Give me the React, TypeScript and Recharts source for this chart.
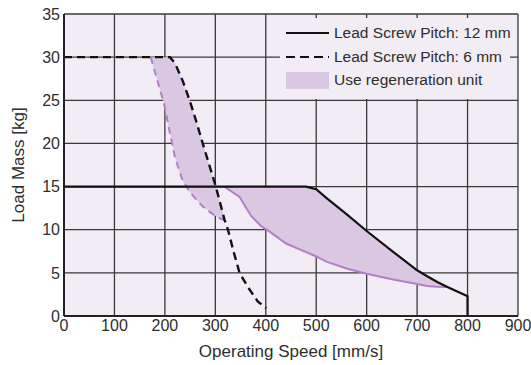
import React from "react";
import {
  ComposedChart, Line, Area, XAxis, YAxis, CartesianGrid, Legend, Label,
} from "recharts";

const FONT = "'Liberation Sans', Arial, sans-serif";
const TEXT = "#2e2e2e";
const BG = "#f2ecf4";
const SHADE = "#dac7e2";
const PURPLE = "#b27fc8";

const xTicks = [0, 100, 200, 300, 400, 500, 600, 700, 800, 900];
const yTicks = [0, 5, 10, 15, 20, 25, 30, 35];

// Lead screw pitch 12 mm (solid)
const pitch12X = [0, 318, 348, 371, 391, 407, 440, 480, 500, 520, 560, 600, 650, 700, 720, 740, 760, 800, 800];
const pitch12Y = [15, 15, 15, 15, 15, 15, 15, 15, 14.7, 13.7, 11.8, 9.85, 7.55, 5.3, 4.6, 3.95, 3.35, 2.3, 0];
// lower edge of the regeneration zone for 12 mm, at pitch12X[1..16]
const regen12Low = [15, 13.8, 11.6, 10.4, 9.8, 8.4, 7.4, 6.9, 6.3, 5.5, 4.9, 4.25, 3.7, 3.48, 3.38, 3.35];

// Lead screw pitch 6 mm (dashed)
const pitch6X = [0, 172, 185, 198, 210, 220, 235, 249, 262, 275, 288, 300, 310, 318, 325, 336, 348, 364, 384, 401];
const pitch6Y = [30, 30, 30, 30, 30, 29.3, 27.3, 25, 22.6, 20, 17.5, 15.2, 13, 11.2, 10, 7.5, 5, 3.4, 1.7, 0.9];
// lower edge of the regeneration zone for 6 mm, at pitch6X[1..13]
const regen6Low = [30, 27.3, 24.7, 21.2, 18.4, 15.7, 14.4, 13.5, 12.7, 12.1, 11.6, 11.3, 11.1];

const legendItems = [
  { label: "Lead Screw Pitch: 12 mm", kind: "solid" },
  { label: "Lead Screw Pitch: 6 mm", kind: "dashed" },
  { label: "Use regeneration unit", kind: "area" },
];

const pitch12 = pitch12X.map((x, i) => ({ x, y: pitch12Y[i] }));
const pitch6 = pitch6X.map((x, i) => ({ x, y: pitch6Y[i] }));
const regen12 = regen12Low.map((low, i) => ({
  x: pitch12X[i + 1], low, range: [low, pitch12Y[i + 1]],
}));
const regen6 = regen6Low.map((low, i) => ({
  x: pitch6X[i + 1], low, range: [low, pitch6Y[i + 1]],
}));

const LegendBox = () => (
  <div style={{ width: 230, height: 81, background: BG, fontFamily: FONT, fontSize: 15.5, color: TEXT }}>
    {legendItems.map((item, i) => (
      <div key={item.label} style={{ position: "absolute", left: 6, top: 5 + i * 23.5, height: 20, display: "flex", alignItems: "center" }}>
        <svg width={44} height={20} style={{ marginRight: 4 }}>
          {item.kind === "area" ? (
            <rect x={0} y={2} width={43} height={17} fill={SHADE} />
          ) : (
            <line x1={0} x2={43} y1={10} y2={10} stroke="#111" strokeWidth={2.2}
              strokeDasharray={item.kind === "dashed" ? "9 5" : undefined} />
          )}
        </svg>
        <span style={{ whiteSpace: "nowrap", lineHeight: "20px" }}>{item.label}</span>
      </div>
    ))}
  </div>
);

export default function App() {
  return (
    <div style={{ position: "absolute", left: 0, top: 0, width: 531, height: 365, background: "#fff" }}>
      <ComposedChart width={531} height={365} margin={{ top: 14, right: 13, bottom: 0, left: 0 }} style={{ fontFamily: FONT }}>
        <CartesianGrid stroke="#3a3a3a" strokeWidth={1.3} fill={BG} fillOpacity={1} />
        <XAxis
          type="number" dataKey="x" domain={[0, 900]} ticks={xTicks} interval={0} allowDataOverflow
          tickLine={false} tickSize={0} tickMargin={4} height={49}
          axisLine={{ stroke: "#222", strokeWidth: 2 }}
          tick={{ fontSize: 16, fill: TEXT, fontFamily: FONT }}
        >
          <Label value="Operating Speed [mm/s]" position="insideBottom" offset={8}
            fontSize={17} fill={TEXT} fontFamily={FONT} />
        </XAxis>
        <YAxis
          type="number" domain={[0, 35]} ticks={yTicks} interval={0} allowDataOverflow
          tickLine={false} tickSize={0} tickMargin={4} width={64}
          axisLine={{ stroke: "#222", strokeWidth: 2 }}
          tick={{ fontSize: 16, fill: TEXT, fontFamily: FONT }}
        >
          <Label value="Load Mass [kg]" angle={-90} position="insideLeft" offset={18}
            fontSize={17} fill={TEXT} fontFamily={FONT} style={{ textAnchor: "middle" }} />
        </YAxis>
        <Legend layout="vertical" align="center" verticalAlign="middle"
          wrapperStyle={{ position: "absolute", left: 280, top: 18, width: 230, height: 81 }}
          content={() => <LegendBox />} />
        <Area data={regen6} dataKey="range" type="linear" stroke="none" fill={SHADE} fillOpacity={1}
          isAnimationActive={false} activeDot={false} />
        <Area data={regen12} dataKey="range" type="linear" stroke="none" fill={SHADE} fillOpacity={1}
          isAnimationActive={false} activeDot={false} />
        <Line data={regen6} dataKey="low" type="linear" stroke={PURPLE} strokeWidth={2}
          strokeDasharray="7 5" dot={false} activeDot={false} isAnimationActive={false} />
        <Line data={regen12} dataKey="low" type="linear" stroke={PURPLE} strokeWidth={2}
          dot={false} activeDot={false} isAnimationActive={false} />
        <Line data={pitch12} dataKey="y" type="linear" stroke="#111" strokeWidth={2.2}
          dot={false} activeDot={false} isAnimationActive={false} />
        <Line data={pitch6} dataKey="y" type="linear" stroke="#111" strokeWidth={2.4}
          strokeDasharray="8 5" dot={false} activeDot={false} isAnimationActive={false} />
      </ComposedChart>
    </div>
  );
}
